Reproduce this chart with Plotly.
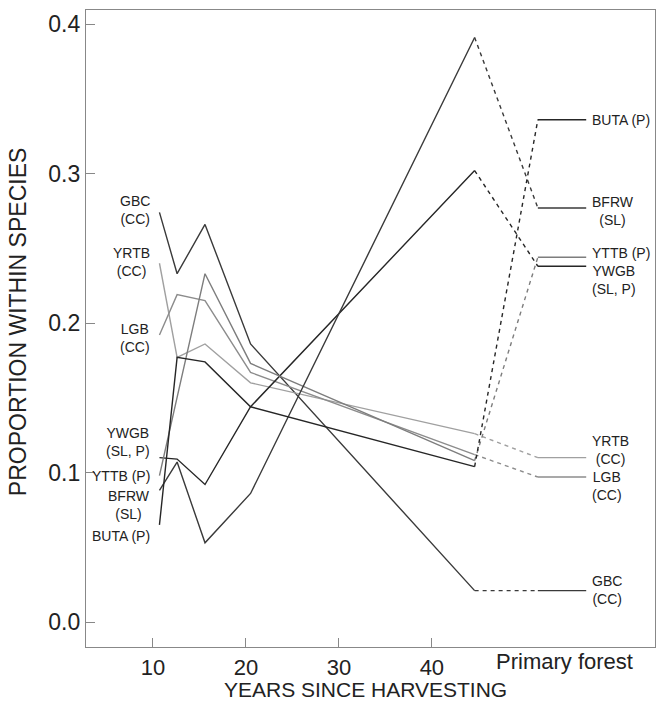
import plotly.graph_objects as go

# ---- data ----
years = [10.7, 12.6, 15.6, 20.5, 44.6]
x_primary = 51.4
x_primary_end = 56.6

species = ["GBC (CC)", "YRTB (CC)", "LGB (CC)", "YWGB (SL, P)", "YTTB (P)", "BFRW (SL)", "BUTA (P)"]
gbc = [0.274, 0.233, 0.266, 0.186, 0.021]
yrtb = [0.240, 0.177, 0.186, 0.160, 0.126]
lgb = [0.192, 0.219, 0.215, 0.167, 0.112]
ywgb = [0.110, 0.109, 0.092, 0.144, 0.302]
yttb = [0.098, 0.150, 0.233, 0.173, 0.108]
bfrw = [0.088, 0.107, 0.053, 0.086, 0.391]
buta = [0.065, 0.177, 0.174, 0.144, 0.104]
primary = [0.021, 0.110, 0.097, 0.238, 0.244, 0.277, 0.336]

left_labels = ["GBC<br>(CC)", "YRTB<br>(CC)", "LGB<br>(CC)", "YWGB<br>(SL, P)", "YTTB (P)", "BFRW<br>(SL)", "BUTA (P)"]
right_labels = ["GBC<br>(CC)", "YRTB<br>(CC)", "LGB<br>(CC)", "YWGB<br>(SL, P)", "YTTB (P)", "BFRW<br>(SL)", "BUTA (P)"]

x_ticks = [10, 20, 30, 40]
y_ticks = [0.0, 0.1, 0.2, 0.3, 0.4]

# ---- styles ----
colors = ["#3a3a3a", "#a0a0a0", "#8c8c8c", "#262626", "#7d7d7d", "#3a3a3a", "#262626"]
left_shift = [2, 1, -3, 16, 0, -15, -11]
right_shift = [1, 8, -9, -14, 4, -3, 0]
FONT = "Liberation Sans, Arial"
AX = 23
XT = 22

series = [gbc, yrtb, lgb, ywgb, yttb, bfrw, buta]

fig = go.Figure()
annotations = []
for name, vals, pv, col, ll, rl, ls, rs in zip(species, series, primary, colors,
                                              left_labels, right_labels, left_shift, right_shift):
    fig.add_trace(go.Scatter(x=years, y=vals, mode="lines",
                             line=dict(color=col, width=1.4), name=name, showlegend=False))
    fig.add_trace(go.Scatter(x=[years[-1], x_primary], y=[vals[-1], pv], mode="lines",
                             line=dict(color=col, width=1.4, dash="4px,4px"), showlegend=False))
    fig.add_trace(go.Scatter(x=[x_primary, x_primary_end], y=[pv, pv], mode="lines",
                             line=dict(color=col, width=1.4), showlegend=False))
    annotations.append(dict(x=9.95, y=vals[0], xref="x", yref="y", text=ll, showarrow=False,
                            xanchor="right", yanchor="middle", align="center", yshift=ls,
                            font=dict(family=FONT, size=14, color="#222")))
    annotations.append(dict(x=57.0, y=pv, xref="x", yref="y", text=rl, showarrow=False,
                            xanchor="left", yanchor="middle", align="center", yshift=rs,
                            font=dict(family=FONT, size=14, color="#222")))

annotations.append(dict(x=54.3, y=-0.0235, xref="x", yref="paper", text="Primary forest",
                        showarrow=False, xanchor="center", yanchor="middle",
                        font=dict(family=FONT, size=XT, color="#222")))
annotations.append(dict(x=0.492, y=-0.0675, xref="paper", yref="paper", text="YEARS SINCE HARVESTING",
                        showarrow=False, xanchor="center", yanchor="middle",
                        font=dict(family=FONT, size=21, color="#222")))
annotations.append(dict(x=-0.1195, y=0.51, xref="paper", yref="paper", text="PROPORTION WITHIN SPECIES",
                        showarrow=False, xanchor="center", yanchor="middle", textangle=-90,
                        font=dict(family=FONT, size=AX, color="#222")))

fig.update_layout(
    width=661, height=702,
    margin=dict(l=86, r=6, t=10, b=55),
    paper_bgcolor="white", plot_bgcolor="white",
    font=dict(family=FONT, size=AX, color="#222"),
    annotations=annotations,
    showlegend=False,
)
fig.update_xaxes(range=[2.8, 64.0], tickvals=x_ticks, ticktext=[str(v) for v in x_ticks],
                 ticks="inside", ticklen=9, tickcolor="#888", tickwidth=1.3,
                 tickfont=dict(size=XT), automargin=False,
                 showline=True, linecolor="#888", linewidth=1.3, mirror=True,
                 showgrid=False, zeroline=False)
fig.update_yaxes(range=[-0.0167, 0.4094], tickvals=y_ticks, ticktext=[f"{v:.1f}" for v in y_ticks],
                 ticks="inside", ticklen=9, tickcolor="#888", tickwidth=1.3,
                 tickfont=dict(size=AX), automargin=False,
                 showline=True, linecolor="#888", linewidth=1.3, mirror=True,
                 showgrid=False, zeroline=False)

fig.write_html("out.html")
